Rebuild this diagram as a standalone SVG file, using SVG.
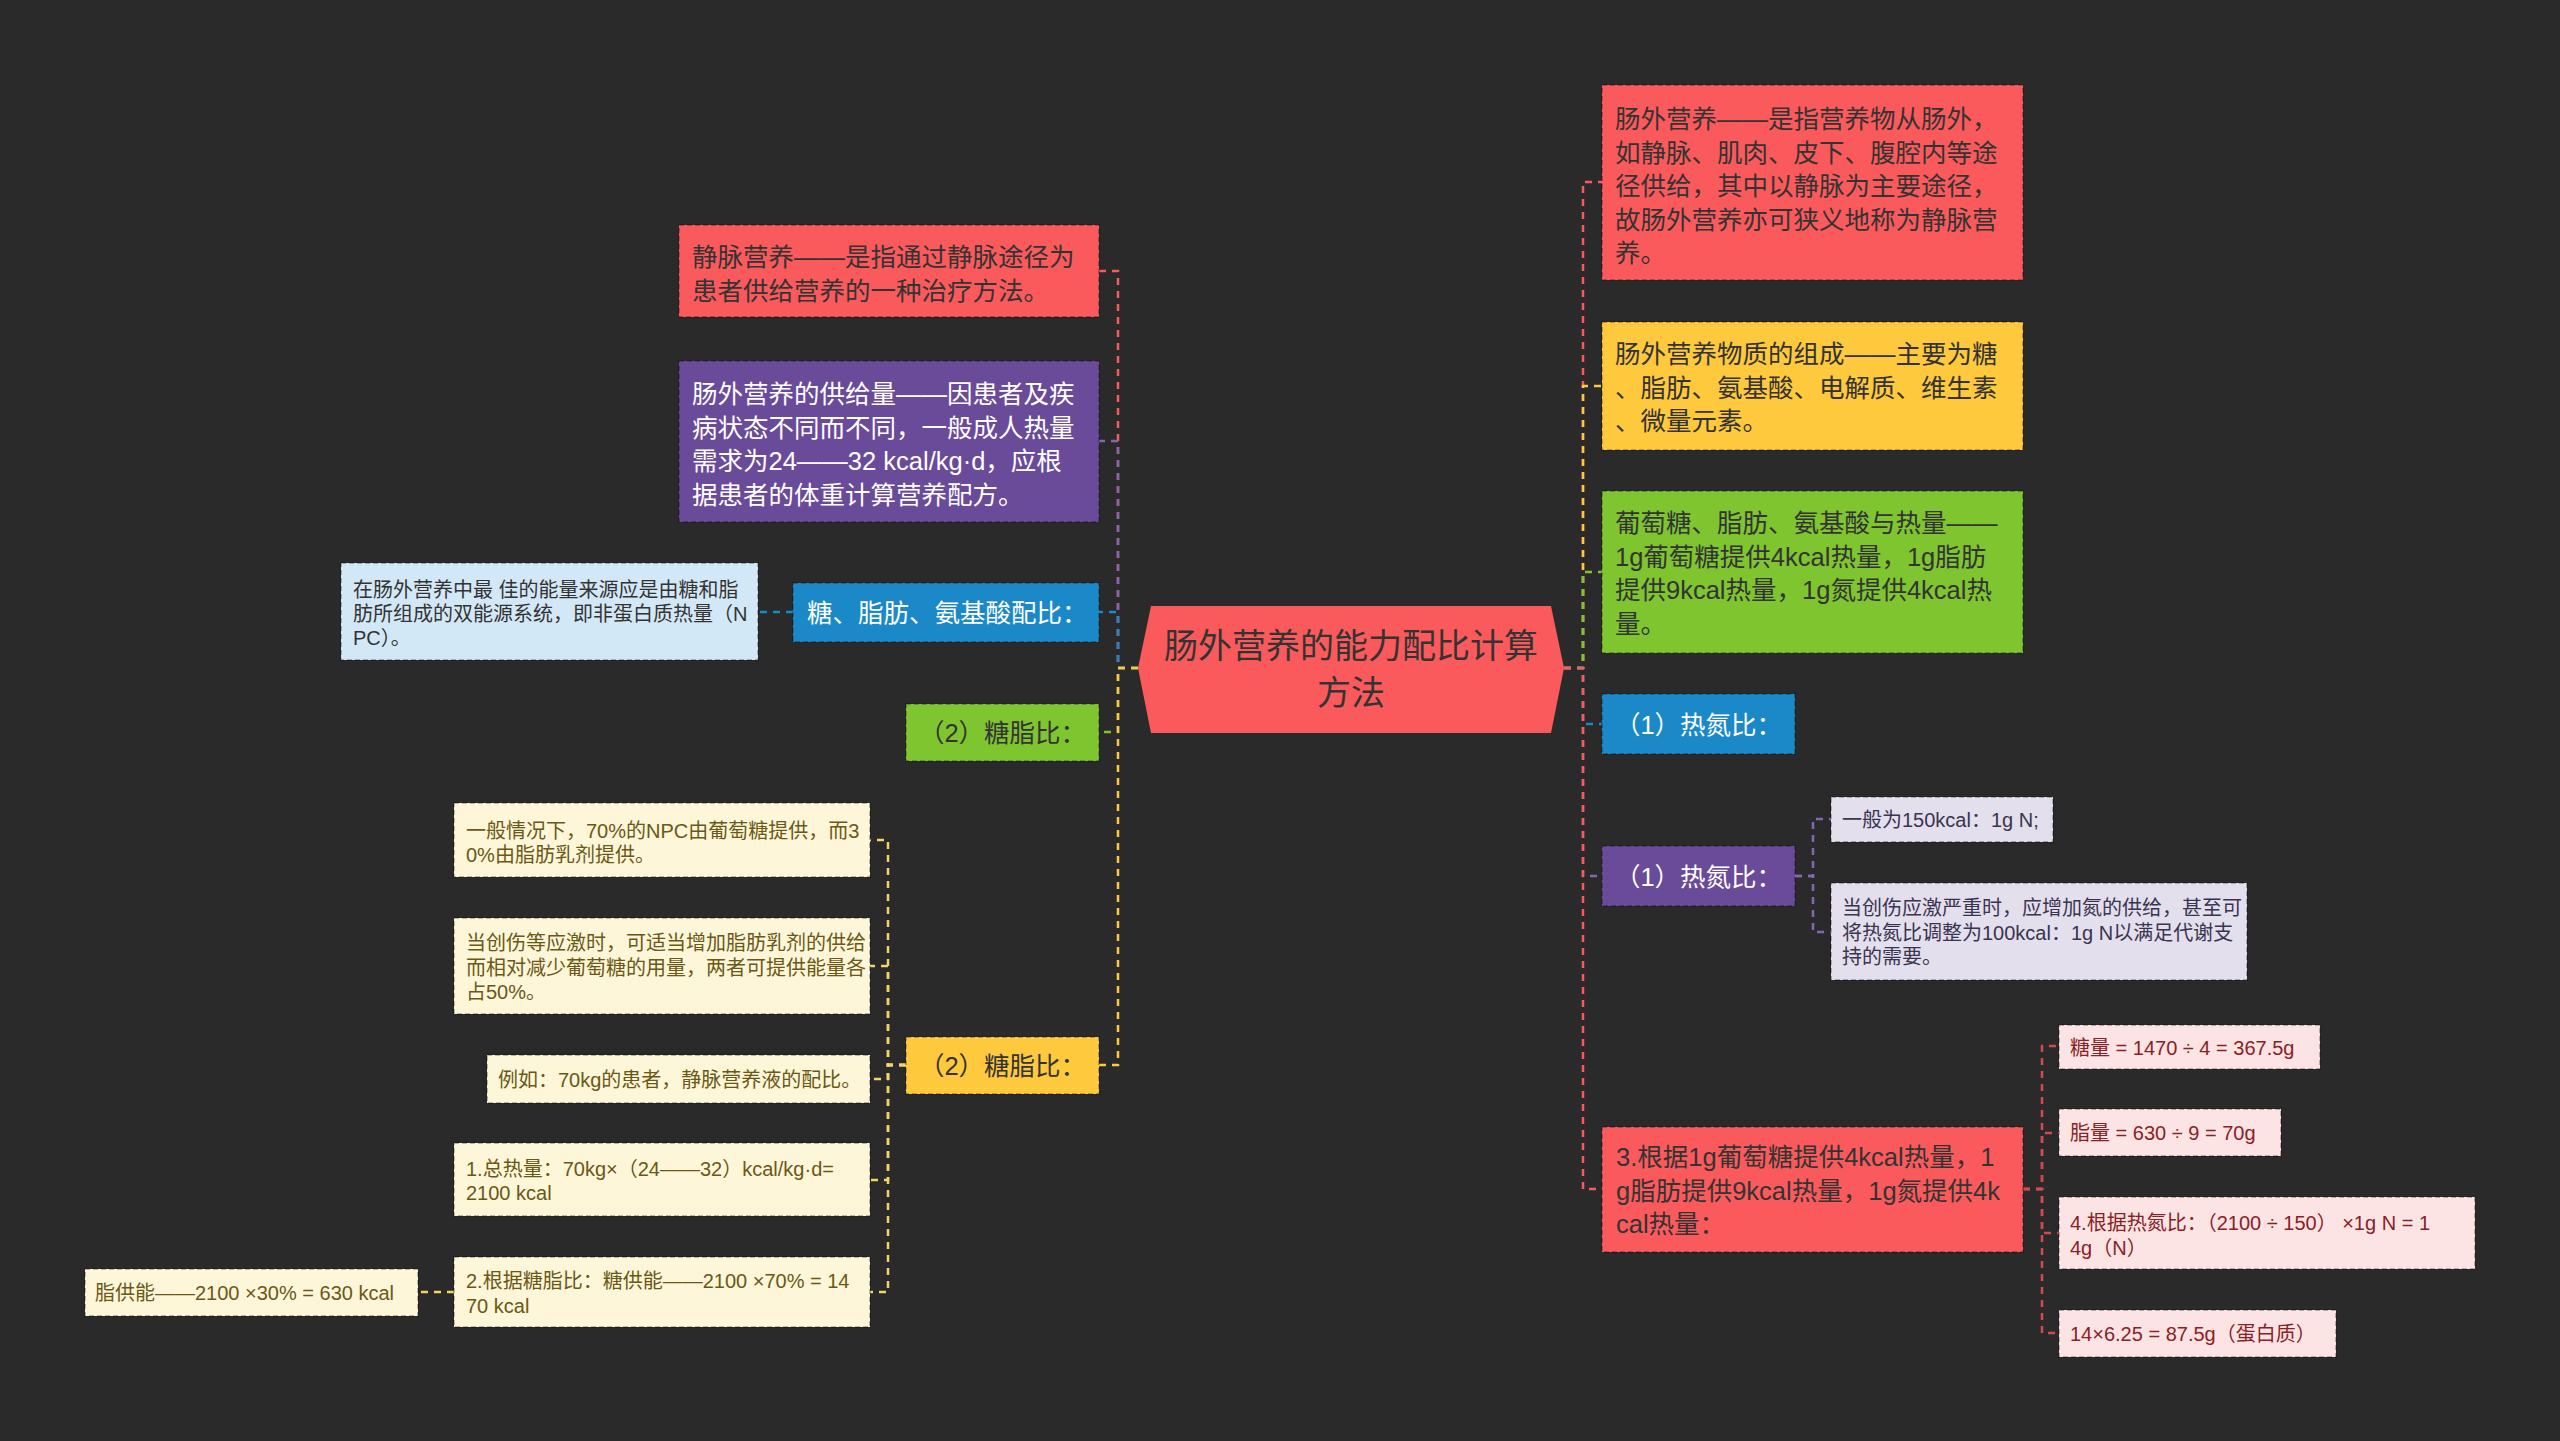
<svg xmlns="http://www.w3.org/2000/svg" width="2560" height="1441" viewBox="0 0 2560 1441">
<style>
text{font-family:"Liberation Sans","Noto Sans CJK SC",sans-serif;}
.big{font-size:25.5px;}
.sm{font-size:20px;}
.box{stroke:rgba(0,0,0,0.35);stroke-width:1.5;stroke-dasharray:5 3;}
.con{fill:none;stroke-width:2.5;stroke-dasharray:7 6;}
.dk{fill:#333333;}
.wt{fill:#ffffff;}
</style>
<rect x="0" y="0" width="2560" height="1441" fill="#2a2a2a"/>
<g id="connectors">
<path class="con" stroke="#fa5a5c" d="M1138 668 H1118 V271 H1099"/>
<path class="con" stroke="#8466b5" d="M1138 668 H1118 V441 H1099"/>
<path class="con" stroke="#1b88c8" d="M1138 668 H1118 V612 H1099"/>
<path class="con" stroke="#7ec530" d="M1138 668 H1118 V732 H1099"/>
<path class="con" stroke="#ffc93e" d="M1138 668 H1118 V1065 H1099"/>
<path class="con" stroke="#fa5a5c" d="M1564 668 H1583 V182 H1602"/>
<path class="con" stroke="#ffc93e" d="M1564 668 H1583 V386 H1602"/>
<path class="con" stroke="#7ec530" d="M1564 668 H1583 V572 H1602"/>
<path class="con" stroke="#1b88c8" d="M1564 668 H1583 V724 H1602"/>
<path class="con" stroke="#8466b5" d="M1564 668 H1583 V876 H1602"/>
<path class="con" stroke="#fa5a5c" d="M1564 668 H1583 V1189 H1602"/>
<path class="con" stroke="#1b88c8" d="M793 612 H758"/>
<path class="con" stroke="#f3d36a" d="M906 1065 H888 V840 H870"/>
<path class="con" stroke="#f3d36a" d="M906 1065 H888 V966 H870"/>
<path class="con" stroke="#f3d36a" d="M906 1065 H888 V1079 H870"/>
<path class="con" stroke="#f3d36a" d="M906 1065 H888 V1180 H870"/>
<path class="con" stroke="#f3d36a" d="M906 1065 H888 V1292 H870"/>
<path class="con" stroke="#f3d36a" d="M454 1292 H418"/>
<path class="con" stroke="#8466b5" d="M1795 876 H1813 V819 H1831"/>
<path class="con" stroke="#8466b5" d="M1795 876 H1813 V932 H1831"/>
<path class="con" stroke="#d24a4e" d="M2023 1189 H2042 V1046 H2059"/>
<path class="con" stroke="#d24a4e" d="M2023 1189 H2042 V1133 H2059"/>
<path class="con" stroke="#d24a4e" d="M2023 1189 H2042 V1233 H2059"/>
<path class="con" stroke="#d24a4e" d="M2023 1189 H2042 V1333 H2059"/>
</g>
<g id="root">
<polygon points="1138,668 1151,606 1551,606 1564,668 1551,733 1151,733" fill="#fa5a5c"/>
<text x="1351" y="658" font-size="34" text-anchor="middle" fill="#333333">肠外营养的能力配比计算</text>
<text x="1351" y="705" font-size="34" text-anchor="middle" fill="#333333">方法</text>
</g>
<g id="n-jingmai">
<rect class="box" x="679" y="225" width="420" height="92" fill="#fa5a5c"/>
<text class="big dk" x="692" y="266">静脉营养——是指通过静脉途径为</text>
<text class="big dk" x="692" y="299.5">患者供给营养的一种治疗方法。</text>
</g>
<g id="n-gongjiliang">
<rect class="box" x="679" y="361" width="420" height="161" fill="#6a4b9a"/>
<text class="big wt" x="692" y="403">肠外营养的供给量——因患者及疾</text>
<text class="big wt" x="692" y="436.5">病状态不同而不同，一般成人热量</text>
<text class="big wt" x="692" y="470">需求为24——32 kcal/kg·d，应根</text>
<text class="big wt" x="692" y="503.5">据患者的体重计算营养配方。</text>
</g>
<g id="n-peibi">
<rect class="box" x="793" y="583" width="306" height="59" fill="#1b88c8"/>
<text class="big wt" x="807" y="622">糖、脂肪、氨基酸配比：</text>
</g>
<g id="n-npc">
<rect class="box" x="341" y="563" width="417" height="97" fill="#d3e8f6"/>
<text class="sm dk" x="353" y="597">在肠外营养中最 佳的能量来源应是由糖和脂</text>
<text class="sm dk" x="353" y="621">肪所组成的双能源系统，即非蛋白质热量（N</text>
<text class="sm dk" x="353" y="645">PC）。</text>
</g>
<g id="n-tangzhi-green">
<rect class="box" x="906" y="704" width="193" height="57" fill="#7ec530"/>
<text class="big dk" x="1002.5" y="742" text-anchor="middle">（2）糖脂比：</text>
</g>
<g id="n-tangzhi-yellow">
<rect class="box" x="906" y="1037" width="193" height="57" fill="#ffc93e"/>
<text class="big dk" x="1002.5" y="1075" text-anchor="middle">（2）糖脂比：</text>
</g>
<g id="n-e1" fill="#6b5816">
<rect class="box" x="454" y="803" width="416" height="74" fill="#fdf6d9"/>
<text class="sm" x="466" y="837.5">一般情况下，70%的NPC由葡萄糖提供，而3</text>
<text class="sm" x="466" y="861.5">0%由脂肪乳剂提供。</text>
</g>
<g id="n-e2" fill="#6b5816">
<rect class="box" x="454" y="918" width="416" height="96" fill="#fdf6d9"/>
<text class="sm" x="466" y="950">当创伤等应激时，可适当增加脂肪乳剂的供给</text>
<text class="sm" x="466" y="974.5">而相对减少葡萄糖的用量，两者可提供能量各</text>
<text class="sm" x="466" y="999">占50%。</text>
</g>
<g id="n-e3" fill="#6b5816">
<rect class="box" x="487" y="1055" width="383" height="48" fill="#fdf6d9"/>
<text class="sm" x="498" y="1087">例如：70kg的患者，静脉营养液的配比。</text>
</g>
<g id="n-e4" fill="#6b5816">
<rect class="box" x="454" y="1143" width="416" height="73" fill="#fdf6d9"/>
<text class="sm" x="466" y="1175.5">1.总热量：70kg×（24——32）kcal/kg·d=</text>
<text class="sm" x="466" y="1200">2100 kcal</text>
</g>
<g id="n-e5" fill="#6b5816">
<rect class="box" x="454" y="1257" width="416" height="70" fill="#fdf6d9"/>
<text class="sm" x="466" y="1288">2.根据糖脂比：糖供能——2100 ×70% = 14</text>
<text class="sm" x="466" y="1312.5">70 kcal</text>
</g>
<g id="n-e5a" fill="#6b5816">
<rect class="box" x="85" y="1269" width="333" height="47" fill="#fdf6d9"/>
<text class="sm" x="95" y="1300">脂供能——2100 ×30% = 630 kcal</text>
</g>
<g id="n-r1">
<rect class="box" x="1602" y="85" width="421" height="195" fill="#fa5a5c"/>
<text class="big dk" x="1615" y="128">肠外营养——是指营养物从肠外，</text>
<text class="big dk" x="1615" y="161.5">如静脉、肌肉、皮下、腹腔内等途</text>
<text class="big dk" x="1615" y="195">径供给，其中以静脉为主要途径，</text>
<text class="big dk" x="1615" y="228.5">故肠外营养亦可狭义地称为静脉营</text>
<text class="big dk" x="1615" y="262">养。</text>
</g>
<g id="n-r2">
<rect class="box" x="1602" y="322" width="421" height="128" fill="#ffc93e"/>
<text class="big dk" x="1615" y="363">肠外营养物质的组成——主要为糖</text>
<text class="big dk" x="1615" y="396.5">、脂肪、氨基酸、电解质、维生素</text>
<text class="big dk" x="1615" y="430">、微量元素。</text>
</g>
<g id="n-r3">
<rect class="box" x="1602" y="491" width="421" height="162" fill="#7ec530"/>
<text class="big dk" x="1615" y="532">葡萄糖、脂肪、氨基酸与热量——</text>
<text class="big dk" x="1615" y="565.5">1g葡萄糖提供4kcal热量，1g脂肪</text>
<text class="big dk" x="1615" y="599">提供9kcal热量，1g氮提供4kcal热</text>
<text class="big dk" x="1615" y="632.5">量。</text>
</g>
<g id="n-r4">
<rect class="box" x="1602" y="694" width="193" height="60" fill="#1b88c8"/>
<text class="big wt" x="1698.5" y="734" text-anchor="middle">（1）热氮比：</text>
</g>
<g id="n-r5">
<rect class="box" x="1602" y="846" width="193" height="60" fill="#6a4b9a"/>
<text class="big wt" x="1698.5" y="886" text-anchor="middle">（1）热氮比：</text>
</g>
<g id="n-r5a" fill="#3a3450">
<rect class="box" x="1831" y="797" width="222" height="45" fill="#e3dfed"/>
<text class="sm" x="1842" y="827">一般为150kcal：1g N;</text>
</g>
<g id="n-r5b" fill="#3a3450">
<rect class="box" x="1831" y="883" width="416" height="97" fill="#e3dfed"/>
<text class="sm" x="1842" y="915">当创伤应激严重时，应增加氮的供给，甚至可</text>
<text class="sm" x="1842" y="939.5">将热氮比调整为100kcal：1g N以满足代谢支</text>
<text class="sm" x="1842" y="964">持的需要。</text>
</g>
<g id="n-r6">
<rect class="box" x="1602" y="1127" width="421" height="125" fill="#fa5a5c"/>
<text class="big dk" x="1616" y="1166">3.根据1g葡萄糖提供4kcal热量，1</text>
<text class="big dk" x="1616" y="1199.5">g脂肪提供9kcal热量，1g氮提供4k</text>
<text class="big dk" x="1616" y="1233">cal热量：</text>
</g>
<g id="n-r6a" fill="#8a2125">
<rect class="box" x="2059" y="1025" width="261" height="44" fill="#fde4e4"/>
<text class="sm" x="2070" y="1055">糖量 = 1470 ÷ 4 = 367.5g</text>
</g>
<g id="n-r6b" fill="#8a2125">
<rect class="box" x="2059" y="1109" width="222" height="47" fill="#fde4e4"/>
<text class="sm" x="2070" y="1140">脂量 = 630 ÷ 9 = 70g</text>
</g>
<g id="n-r6c" fill="#8a2125">
<rect class="box" x="2059" y="1197" width="416" height="72" fill="#fde4e4"/>
<text class="sm" x="2070" y="1229.5">4.根据热氮比：（2100 ÷ 150） ×1g N = 1</text>
<text class="sm" x="2070" y="1255">4g（N）</text>
</g>
<g id="n-r6d" fill="#8a2125">
<rect class="box" x="2059" y="1310" width="277" height="47" fill="#fde4e4"/>
<text class="sm" x="2070" y="1341">14×6.25 = 87.5g（蛋白质）</text>
</g>
</svg>
